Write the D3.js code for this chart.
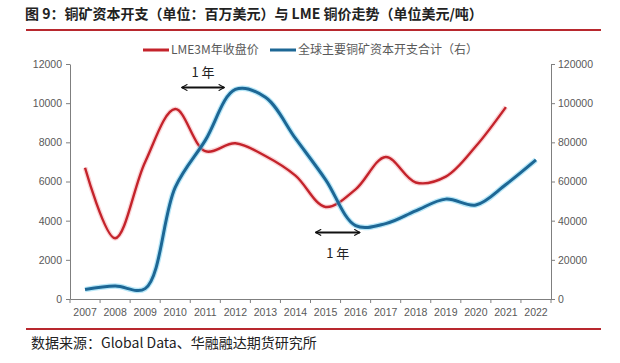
<!DOCTYPE html>
<html>
<head>
<meta charset="utf-8">
<script src="https://cdn.jsdelivr.net/npm/d3@7/dist/d3.min.js"></script>
<style>
  body { margin: 0; background: #fff; }
  svg { display: block; font-family: "Noto Sans CJK SC", "Noto Sans", sans-serif; }
</style>
</head>
<body>
<script>
'use strict';
// data
const years = ['2007','2008','2009','2010','2011','2012','2013','2014','2015','2016','2017','2018','2019','2020','2021','2022'];
const lmePrice = [6700, 3100, 7000, 9700, 7550, 7950, 7300, 6300, 4700, 5600, 7250, 5950, 6250, 7800, 9800];
const capex = [4800, 6600, 5300, 57000, 81000, 107000, 103000, 82000, 61000, 37500, 38500, 45000, 51000, 48000, 58500, 71000];
const leftTicks = [0, 2000, 4000, 6000, 8000, 10000, 12000];
const rightTicks = [0, 20000, 40000, 60000, 80000, 100000, 120000];
const seriesNames = ['LME3M年收盘价', '全球主要铜矿资本开支合计（右）'];
// lag arrows: [from year index, to year index, left-axis value, label]
const lagArrows = [
  [3.22, 4.63, 10800, 11600],
  [7.67, 9.14, 3400, 2350]
];

(function () {
  const width = 620, height = 363;
  const margin = { left: 70, right: 69, top: 64, bottom: 64 };
  const red = '#c4232b', blue = '#1d6795';

  const svg = d3.select('body').append('svg')
    .attr('width', width).attr('height', height);

  // title
  svg.append('text').attr('x', 25).attr('y', 19)
    .attr('font-size', 14).attr('font-weight', 'bold').attr('fill', '#222')
    .text('图 9：铜矿资本开支（单位：百万美元）与 LME 铜价走势（单位美元/吨）');
  svg.append('line').attr('x1', 26).attr('x2', 601).attr('y1', 30).attr('y2', 30)
    .attr('stroke', '#b8282e').attr('stroke-width', 2);
  svg.append('line').attr('x1', 26).attr('x2', 601).attr('y1', 329).attr('y2', 329)
    .attr('stroke', '#b8282e').attr('stroke-width', 2);
  svg.append('text').attr('x', 31).attr('y', 348)
    .attr('font-size', 14).attr('fill', '#222')
    .text('数据来源：Global Data、华融融达期货研究所');

  const x = d3.scaleBand().domain(years)
    .range([margin.left, width - margin.right]);
  const xc = (i) => x(years[0]) + x.bandwidth() * (i + 0.5);
  const yL = d3.scaleLinear().domain([0, 12000]).range([height - margin.bottom, margin.top]);
  const yR = d3.scaleLinear().domain([0, 120000]).range([height - margin.bottom, margin.top]);

  // axes
  const axisColor = '#7f7f7f', labelColor = '#595959';
  const fmt = d3.format('d');
  const gl = svg.append('g').attr('transform', `translate(${margin.left},0)`)
    .call(d3.axisLeft(yL).tickValues(leftTicks).tickFormat(fmt).tickSize(4).tickSizeOuter(0).tickPadding(4));
  const gr = svg.append('g').attr('transform', `translate(${width - margin.right},0)`)
    .call(d3.axisRight(yR).tickValues(rightTicks).tickFormat(fmt).tickSize(4).tickSizeOuter(0).tickPadding(3));
  const gx = svg.append('g').attr('transform', `translate(0,${height - margin.bottom})`)
    .call(d3.axisBottom(x).tickSize(0).tickPadding(10));
  // tick marks at category boundaries
  gx.selectAll('.bound').data(d3.range(years.length + 1)).enter().append('line')
    .attr('class', 'bound')
    .attr('x1', (i) => x(years[0]) + i * x.bandwidth())
    .attr('x2', (i) => x(years[0]) + i * x.bandwidth())
    .attr('y1', 0).attr('y2', 4).attr('stroke', axisColor);
  [gl, gr, gx].forEach((g) => {
    g.selectAll('path, line').attr('stroke', axisColor);
    g.selectAll('text').attr('fill', labelColor).attr('font-size', 10.5)
      .attr('font-family', '"Liberation Sans", Arial, sans-serif');
  });

  // lines
  const lineL = d3.line().x((d, i) => xc(i)).y((d) => yL(d)).curve(d3.curveCatmullRom.alpha(0.5));
  const lineR = d3.line().x((d, i) => xc(i)).y((d) => yR(d)).curve(d3.curveCatmullRom.alpha(0.5));

  svg.append('path').datum(lmePrice).attr('d', lineL).attr('fill', 'none')
    .attr('stroke', '#f4a3a8').attr('stroke-width', 5).attr('stroke-opacity', 0.45);
  svg.append('path').datum(lmePrice).attr('d', lineL).attr('fill', 'none')
    .attr('stroke', red).attr('stroke-width', 2.4);
  svg.append('path').datum(capex).attr('d', lineR).attr('fill', 'none')
    .attr('stroke', '#6fd0f2').attr('stroke-width', 5.5).attr('stroke-opacity', 0.5);
  svg.append('path').datum(capex).attr('d', lineR).attr('fill', 'none')
    .attr('stroke', blue).attr('stroke-width', 3);

  // legend
  const legend = svg.append('g').attr('font-size', 12).attr('fill', labelColor);
  const legendItems = [
    { name: seriesNames[0], color: red, x: 143 },
    { name: seriesNames[1], color: blue, x: 270 }
  ];
  legendItems.forEach((it) => {
    legend.append('line').attr('x1', it.x).attr('x2', it.x + 26).attr('y1', 50).attr('y2', 50)
      .attr('stroke', it.color).attr('stroke-width', 3);
    legend.append('text').attr('x', it.x + 28).attr('y', 54).attr('fill', labelColor).text(it.name);
  });

  // lag arrows
  svg.append('defs').append('marker').attr('id', 'ah')
    .attr('viewBox', '0 0 10 10').attr('refX', 9).attr('refY', 5)
    .attr('markerWidth', 7).attr('markerHeight', 7).attr('markerUnits', 'userSpaceOnUse')
    .attr('orient', 'auto-start-reverse')
    .append('path').attr('d', 'M1,0.5 L9,5 L1,9.5').attr('fill', 'none')
    .attr('stroke', '#111').attr('stroke-width', 1.6);
  lagArrows.forEach(([a, b, v, lv]) => {
    svg.append('line').attr('x1', xc(a)).attr('x2', xc(b)).attr('y1', yL(v)).attr('y2', yL(v))
      .attr('stroke', '#111').attr('stroke-width', 2)
      .attr('marker-start', 'url(#ah)').attr('marker-end', 'url(#ah)');
    svg.append('text').attr('x', (xc(a) + xc(b)) / 2).attr('y', yL(lv) + 5)
      .attr('text-anchor', 'middle').attr('font-size', 13).attr('fill', '#222')
      .text('1 年');
  });
})();
</script>
</body>
</html>
